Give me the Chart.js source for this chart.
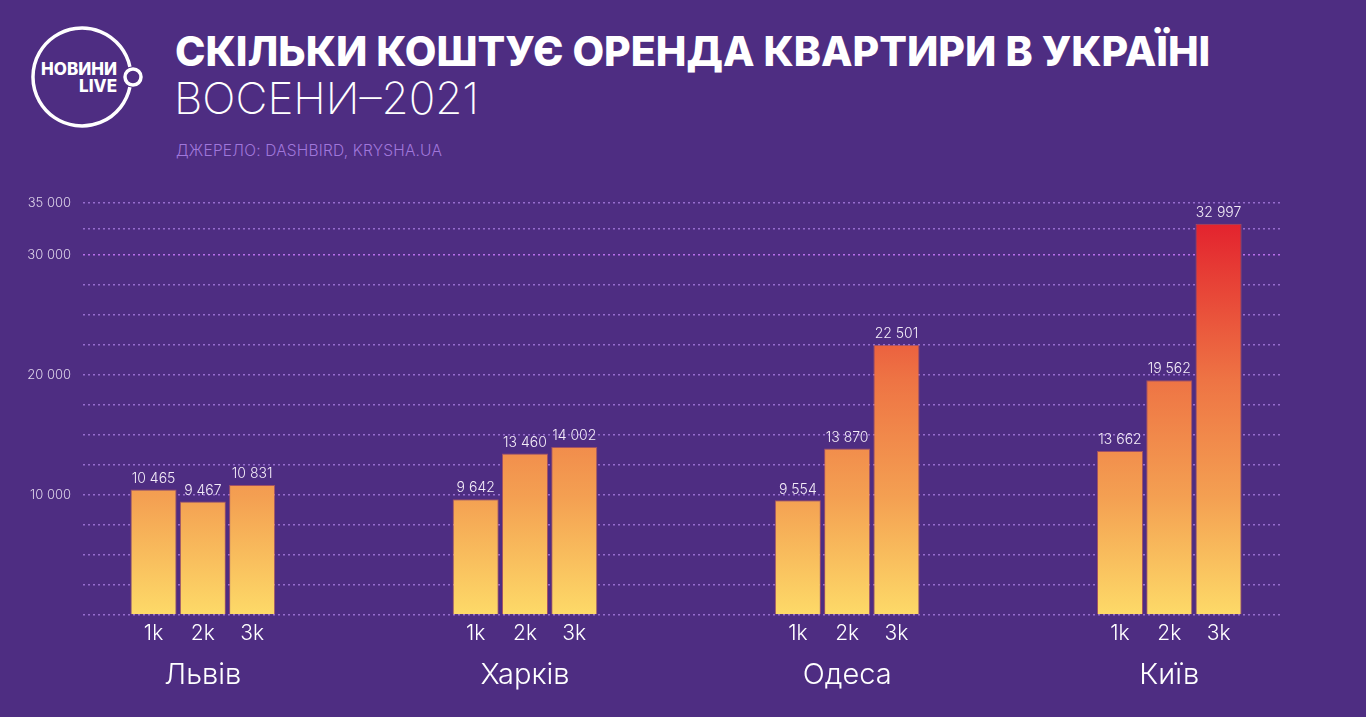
<!DOCTYPE html>
<html lang="uk">
<head>
<meta charset="utf-8">
<title>Скільки коштує оренда квартири в Україні восени-2021</title>
<script src="https://cdn.jsdelivr.net/npm/chart.js@4.4.1/dist/chart.umd.min.js"></script>
<style>
  html, body { margin: 0; padding: 0; }
  body {
    width: 1366px; height: 717px; overflow: hidden; position: relative;
    background: #4e2d82; font-family: "Inter", "Noto Sans", sans-serif; color: #fff;
  }
  #logo { position: absolute; left: 0; top: 0; }
  .title {
    position: absolute; left: 175px; top: 25px; margin: 0;
    font-size: 41px; font-weight: 800; line-height: 52px; white-space: nowrap;
  }
  .subtitle {
    position: absolute; left: 174px; top: 70px; margin: 0;
    font-size: 44px; font-weight: 200; line-height: 56px; white-space: nowrap;
  }
  .source {
    position: absolute; left: 176px; top: 141px; margin: 0;
    font-size: 15.5px; font-weight: 300; letter-spacing: 0.2px; color: #a077db; white-space: nowrap;
  }
  #wrap { position: absolute; left: 0; top: 0; width: 1366px; height: 717px; }
</style>
</head>
<body>
<svg id="logo" width="160" height="150" viewBox="0 0 160 150">
  <path d="M 129.9 66.8 A 49 49 0 1 0 129.9 87.2" fill="none" stroke="#fff" stroke-width="3.5"/>
  <circle cx="133" cy="77" r="8" fill="none" stroke="#fff" stroke-width="3.5"/>
  <text x="117" y="75" text-anchor="end" font-family="Inter, sans-serif" font-weight="800" font-size="17" fill="#fff">НОВИНИ</text>
  <text x="117" y="92" text-anchor="end" font-family="Inter, sans-serif" font-weight="800" font-size="17" fill="#fff">LIVE</text>
</svg>
<h1 class="title">СКІЛЬКИ КОШТУЄ ОРЕНДА КВАРТИРИ В УКРАЇНІ</h1>
<p class="subtitle">ВОСЕНИ–2021</p>
<p class="source">ДЖЕРЕЛО: DASHBIRD, KRYSHA.UA</p>
<div id="wrap"><canvas id="rentChart"></canvas></div>

<script>
const cities = ['Львів', 'Харків', 'Одеса', 'Київ'];
const sizes = ['1k', '2k', '3k'];
const rent1k = [10465, 9642, 9554, 13662];
const rent2k = [9467, 13460, 13870, 19562];
const rent3k = [10831, 14002, 22501, 32997];
const yTicksShown = [10000, 20000, 30000, 35000];

// the original axis is stretched below 30 000 and squeezed above it
const BREAK_AT = 30000;
const LOWER_SHARE = 360 / 412;

function fmt(v) {
    return String(v).replace(/\B(?=(\d{3})+(?!\d))/g, ' ');
}

class BentScale extends Chart.LinearScale {
    getDecimalForValue(value) {
        if (value <= BREAK_AT) return value / BREAK_AT * LOWER_SHARE;
        return LOWER_SHARE + (value - BREAK_AT) / (this.max - BREAK_AT) * (1 - LOWER_SHARE);
    }
    getPixelForValue(value) {
        if (value === null || isNaN(value)) return NaN;
        return this.getPixelForDecimal(this.getDecimalForValue(value));
    }
    getValueForPixel(pixel) {
        const d = this.getDecimalForPixel(pixel);
        if (d <= LOWER_SHARE) return d / LOWER_SHARE * BREAK_AT;
        return BREAK_AT + (d - LOWER_SHARE) / (1 - LOWER_SHARE) * (this.max - BREAK_AT);
    }
}
BentScale.id = 'bent';
BentScale.defaults = {};
Chart.register(BentScale);

function barFill(context) {
    const chart = context.chart;
    if (!chart.chartArea) return '#f4a052';
    const y = chart.scales.y;
    const g = chart.ctx.createLinearGradient(0, y.getPixelForValue(0), 0, y.getPixelForValue(33000));
    g.addColorStop(0, '#fdda68');
    g.addColorStop(0.3, '#f4a052');
    g.addColorStop(0.6, '#ee7444');
    g.addColorStop(1, '#e3232e');
    return g;
}

// values above the bars and room sizes under them
const barLabels = {
    id: 'barLabels',
    afterDatasetsDraw(chart) {
        const ctx = chart.ctx;
        const bottom = chart.chartArea.bottom;
        ctx.save();
        ctx.textAlign = 'center';
        ctx.textBaseline = 'middle';
        chart.data.datasets.forEach((ds, di) => {
            chart.getDatasetMeta(di).data.forEach((bar, i) => {
                ctx.fillStyle = '#f3ecf8';
                ctx.font = '300 14px Inter, sans-serif';
                ctx.fillText(fmt(ds.data[i].y), bar.x, bar.y - 11);
                ctx.fillStyle = '#ffffff';
                ctx.font = '300 21px Inter, sans-serif';
                ctx.fillText(sizes[di], bar.x, bottom + 19);
            });
        });
        ctx.restore();
    }
};

const series = [rent1k, rent2k, rent3k];
const ctx = document.getElementById('rentChart').getContext('2d');
const chart = new Chart(ctx, {
    type: 'bar',
    data: {
        datasets: series.map((values, si) => ({
            label: sizes[si],
            data: values.map((v, i) => ({ x: i, y: v })),
            backgroundColor: barFill,
            borderColor: 'rgba(226, 110, 80, 0.55)',
            borderWidth: 1,
            categoryPercentage: 0.459,
            barPercentage: 0.935
        }))
    },
    options: {
        responsive: true,
        maintainAspectRatio: false,
        animation: false,
        layout: { padding: { top: 203, right: 83, left: 0, bottom: 0 } },
        plugins: {
            legend: { display: false },
            tooltip: { enabled: false }
        },
        scales: {
            x: {
                type: 'linear',
                offset: false,
                min: -0.372,
                max: 3.353,
                afterBuildTicks: axis => { axis.ticks = cities.map((c, i) => ({ value: i })); },
                afterFit: axis => { axis.height = 102; },
                grid: { display: false, offset: false },
                border: { display: false },
                ticks: {
                    autoSkip: false,
                    maxRotation: 0,
                    padding: 35,
                    color: '#ffffff',
                    font: { family: 'Inter', size: 29, weight: '300' },
                    callback: v => cities[v]
                }
            },
            y: {
                type: 'bent',
                min: 0,
                max: 35000,
                afterFit: axis => { axis.width = 83; },
                border: { display: false, dash: [2, 3] },
                grid: {
                    drawTicks: false,
                    color: c => c.tick && c.tick.value === 30000 ? 'rgba(190, 115, 240, 0.95)' : 'rgba(170, 125, 225, 0.8)',
                    lineWidth: 1.5
                },
                ticks: {
                    stepSize: 2500,
                    autoSkip: false,
                    padding: 12,
                    color: '#ddd3ea',
                    font: { family: 'Inter', size: 13, weight: '300' },
                    callback: v => yTicksShown.includes(v) ? fmt(v) : ''
                }
            }
        }
    },
    plugins: [barLabels]
});
</script>
</body>
</html>
